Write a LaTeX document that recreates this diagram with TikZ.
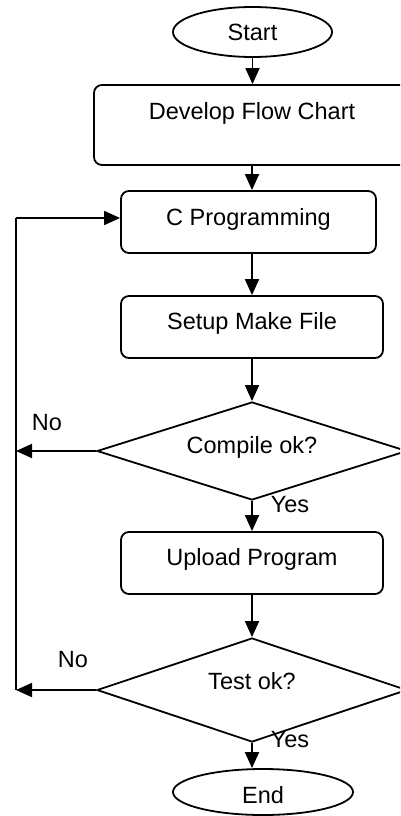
\documentclass[tikz,border=0pt]{standalone}
\usepackage{fontspec}
\setmainfont{Liberation Sans}
\usetikzlibrary{shapes.geometric,arrows.meta}

\tikzset{
  every node/.style={font=\fontsize{23.5}{28}\selectfont},
  box/.style={draw, line width=1.8pt, rounded corners=8pt, inner sep=0pt},
  term/.style={draw, ellipse, line width=1.8pt, inner sep=0pt},
  dec/.style={draw, diamond, line width=1.8pt, inner sep=0pt, aspect=3.16},
  arr/.style={line width=1.8pt, -{Triangle[length=16pt,width=14pt]}},
  ln/.style={line width=1.8pt},
  tag/.style={inner sep=0pt}
}

\begin{document}
\begin{tikzpicture}[x=1pt, y=-1pt]
  \useasboundingbox (0,0) rectangle (400,816);
  \clip (0,0) rectangle (400,816);

  % process steps
  \node[term, minimum width=159pt, minimum height=50pt] (start) at (252.5,32) {Start};
  \node[box, minimum width=316pt, minimum height=80pt,
        label={[yshift=12pt]center:Develop Flow Chart}] (dev) at (252,125) {};
  \node[box, minimum width=255pt, minimum height=62pt,
        label={[yshift=3pt]center:C Programming}] (cprog) at (248.5,222) {};
  \node[box, minimum width=262pt, minimum height=62pt,
        label={[yshift=4pt]center:Setup Make File}] (setup) at (252,327) {};
  \node[dec, minimum width=310pt, minimum height=98pt,
        label={[yshift=4pt]center:Compile ok?}] (compile) at (252,451) {};
  \node[box, minimum width=262pt, minimum height=62pt,
        label={[yshift=4pt]center:Upload Program}] (upload) at (252,563) {};
  \node[dec, minimum width=310pt, minimum height=104pt,
        label={[yshift=9pt]center:Test ok?}] (test) at (252,690) {};
  \node[term, minimum width=180pt, minimum height=46pt] (end) at (263,792) {};
  \node[tag] (endtxt) at (263,795) {End};

  % feedback loop corners
  \coordinate (loopTop) at (16,218);
  \coordinate (loopBot) at (16,690);

  % main flow
  \draw[arr] (start.south) -- (start.south |- dev.north);
  \draw[arr] (dev.south) -- (dev.south |- cprog.north);
  \draw[arr] (cprog.south -| setup.north) -- (setup.north);
  \draw[arr] (setup.south) -- (compile.north);
  \draw[arr] (compile.south) -- (upload.north);
  \draw[arr] (upload.south) -- (test.north);
  \draw[arr] (test.south) -- (test.south |- end.north);

  % "No" branches back to C Programming
  \draw[arr] (compile.west) -- (compile.west -| loopBot);
  \draw[arr] (test.west) -- (loopBot);
  \draw[ln] (loopBot) -- (loopTop);
  \draw[arr] (loopTop) -- (cprog.west |- loopTop);

  % branch labels
  \node[tag] (no1) at (47,423) {No};
  \node[tag] (no2) at (73,660) {No};
  \node[tag] (yes1) at (290,505) {Yes};
  \node[tag] (yes2) at (290,740) {Yes};
\end{tikzpicture}
\end{document}
